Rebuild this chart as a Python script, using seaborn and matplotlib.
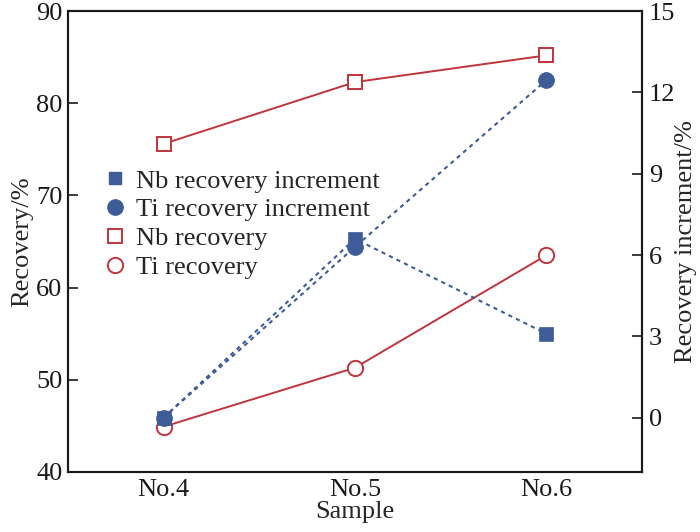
"""
    Recovery of Nb and Ti for samples No.4-No.6 (left axis)
    with the recovery increment on a twin right axis
"""
import matplotlib
matplotlib.use('Agg')
import matplotlib.pyplot as plt
from matplotlib.lines import Line2D
import seaborn as sns
import pandas as pd

samples = ['No.4', 'No.5', 'No.6']
nb_recovery = [75.6, 82.3, 85.2]
ti_recovery = [44.9, 51.3, 63.5]
nb_increment = [0.0, 6.6, 3.1]
ti_increment = [0.0, 6.3, 12.45]

RED = '#C0343C'
BLUE = '#3E5C98'
FS = 19


def viz_recovery(outpath='out.png'):
    sns.set_theme(style='white')
    plt.rcParams['font.family'] = ['Liberation Serif', 'DejaVu Serif']

    df = pd.DataFrame({'Sample': samples, 'nb_rec': nb_recovery, 'ti_rec': ti_recovery,
                       'nb_inc': nb_increment, 'ti_inc': ti_increment})

    fig = plt.figure(figsize=(7.0, 5.32), dpi=100)
    ax = fig.add_axes([0.097, 0.113, 0.82, 0.866])
    ax2 = ax.twinx()

    # left axis: recovery
    sns.lineplot(data=df, x='Sample', y='nb_rec', ax=ax, color=RED, lw=1.4, marker='s', markersize=10,
                 markerfacecolor='white', markeredgecolor=RED, markeredgewidth=1.4, sort=False)
    sns.lineplot(data=df, x='Sample', y='ti_rec', ax=ax, color=RED, lw=1.4, marker='o', markersize=11,
                 markerfacecolor='white', markeredgecolor=RED, markeredgewidth=1.4, sort=False)

    # right axis: recovery increment
    sns.lineplot(data=df, x='Sample', y='ti_inc', ax=ax2, color=BLUE, lw=1.5, linestyle=(0, (2, 2)),
                 marker='o', markersize=11.5, markeredgecolor=BLUE, markeredgewidth=0.5, sort=False)
    sns.lineplot(data=df, x='Sample', y='nb_inc', ax=ax2, color=BLUE, lw=1.5, linestyle=(0, (2, 2)),
                 marker='s', markersize=10, markeredgecolor=BLUE, markeredgewidth=0.5, sort=False)

    ax.set_xlim(-0.5, 2.5)
    ax.set_ylim(40, 90)
    ax.set_yticks([40, 50, 60, 70, 80, 90])
    ax2.set_ylim(-2, 15)
    ax2.set_yticks([0, 3, 6, 9, 12, 15])

    ax.set_xlabel('Sample', fontsize=FS, labelpad=0)
    ax.set_ylabel('Recovery/%', fontsize=FS, labelpad=2)
    ax2.set_ylabel('Recovery increment/%', fontsize=FS, labelpad=0)

    for a in (ax, ax2):
        for s in a.spines.values():
            s.set_linewidth(1.5)
            s.set_color('#1a1a1a')
        a.tick_params(direction='in', length=7, width=1.2, labelsize=FS, colors='#1a1a1a', pad=5)
    ax.tick_params(axis='y', right=False, pad=4)
    ax.tick_params(axis='x', top=False, pad=5)
    ax2.tick_params(axis='y', left=False, pad=5)

    handles = [
        Line2D([], [], linestyle='none', marker='s', markersize=9, color=BLUE),
        Line2D([], [], linestyle='none', marker='o', markersize=11, color=BLUE),
        Line2D([], [], linestyle='none', marker='s', markersize=10, markerfacecolor='white',
               markeredgecolor=RED, markeredgewidth=1.4),
        Line2D([], [], linestyle='none', marker='o', markersize=11, markerfacecolor='white',
               markeredgecolor=RED, markeredgewidth=1.4),
    ]
    labels = ['Nb recovery increment', 'Ti recovery increment', 'Nb recovery', 'Ti recovery']
    ax2.legend(handles, labels, loc='upper left', bbox_to_anchor=(0.045, 0.68), frameon=False,
               fontsize=FS, handlelength=0.8, handletextpad=0.4, labelspacing=0.2, borderaxespad=0)

    fig.savefig(outpath, dpi=100)
    plt.close(fig)


if __name__ == '__main__':
    viz_recovery()
